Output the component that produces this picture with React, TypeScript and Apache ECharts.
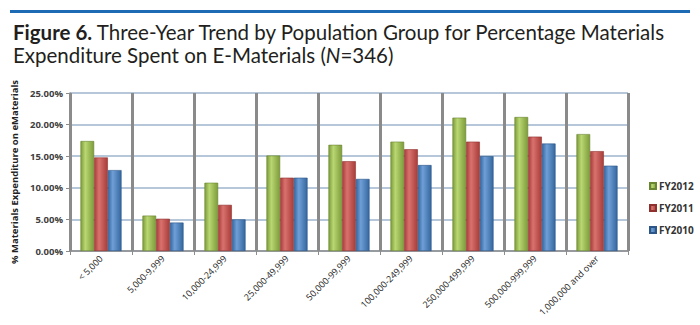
import React, { useEffect, useRef } from "react";
import * as echarts from "echarts";

const categories = [
  "< 5,000",
  "5,000-9,999",
  "10,000-24,999",
  "25,000-49,999",
  "50,000-99,999",
  "100,000-249,999",
  "250,000-499,999",
  "500,000-999,999",
  "1,000,000 and over",
];
const fy2012 = [17.4, 5.6, 10.8, 15.1, 16.8, 17.3, 21.1, 21.2, 18.5];
const fy2011 = [14.8, 5.1, 7.3, 11.6, 14.2, 16.1, 17.3, 18.1, 15.8];
const fy2010 = [12.8, 4.5, 5.0, 11.6, 11.4, 13.6, 15.0, 17.0, 13.5];
const seriesNames = ["FY2012", "FY2011", "FY2010"];

const grad = (dark: string, light: string) =>
  new echarts.graphic.LinearGradient(0, 0, 1, 0, [
    { offset: 0, color: dark },
    { offset: 0.35, color: light },
    { offset: 1, color: dark },
  ]);

export default function App() {
  const ref = useRef<HTMLDivElement>(null);
  useEffect(() => {
    if (!ref.current) return;
    const chart = echarts.init(ref.current, null, { renderer: "svg" });
    const mk = (name: string, data: number[], dark: string, light: string, border: string, legend: string) => ({
      name,
      type: "bar",
      data,
      barWidth: 13.7,
      barGap: "0%",
      itemStyle: { color: grad(dark, light), borderColor: border, borderWidth: 0.6 },
      color: legend,
    });
    chart.setOption({
      animation: false,
      textStyle: { fontFamily: "Open Sans" },
      graphic: [
        { type: "rect", shape: { x: 10, y: 10, width: 680, height: 3 }, style: { fill: "#1d6bb5" } },
      ],
      title: {
        left: 8,
        top: 15,
        text:
          "{b|Figure 6.}{r| Three-Year Trend by Population Group for Percentage Materials}\n{r|Expenditure Spent on E-Materials (}{i|N}{r|=346)}",
        textStyle: {
          fontWeight: "normal",
          rich: {
            b: { fontFamily: "Lato", fontSize: 20.5, fontWeight: "bold", color: "#231f20", lineHeight: 23 },
            r: { fontFamily: "Lato", fontSize: 20.5, fontWeight: "normal", color: "#231f20", lineHeight: 23 },
            i: { fontFamily: "Lato", fontSize: 20.5, fontWeight: "normal", fontStyle: "italic", color: "#231f20", lineHeight: 23 },
          },
        },
      },
      legend: {
        orient: "vertical",
        left: 644,
        top: 176,
        itemWidth: 6,
        itemHeight: 6,
        itemGap: 12,
        icon: "rect",
        textStyle: { fontSize: 10, fontWeight: "bold", color: "#333", fontFamily: "Open Sans", padding: [0, 0, 0, -2] },
        data: seriesNames,
      },
      grid: { left: 70, top: 93, width: 558, height: 158 },
      xAxis: {
        type: "category",
        data: categories,
        axisLine: { lineStyle: { color: "#8c8c8c", width: 1.5 } },
        axisTick: { show: true, length: 4, lineStyle: { color: "#8c8c8c" } },
        splitLine: { show: true, interval: 0, lineStyle: { color: "#8a8a8a", width: 3 } },
        axisLabel: {
          interval: 0,
          rotate: 45,
          fontSize: 9,
          margin: 6,
          color: "#222",
          fontFamily: "Open Sans",
        },
      },
      yAxis: {
        type: "value",
        min: 0,
        max: 25,
        interval: 5,
        name: "% Materials Expenditure on eMaterials",
        nameLocation: "middle",
        nameRotate: 90,
        nameGap: 45,
        nameTextStyle: { fontSize: 9.5, fontWeight: "bold", color: "#222", fontFamily: "Open Sans" },
        axisLine: { show: true, lineStyle: { color: "#8c8c8c", width: 1.5 } },
        axisTick: { show: true, length: 4, lineStyle: { color: "#8c8c8c" } },
        splitLine: { lineStyle: { color: "#9db4cc", width: 1.5 } },
        axisLabel: {
          fontSize: 9.5,
          fontWeight: "bold",
          color: "#404040",
          margin: 7,
          fontFamily: "Open Sans",
          formatter: (v: number) => v.toFixed(2) + "%",
        },
      },
      series: [
        mk(seriesNames[0], fy2012, "#7d9c3a", "#b9d873", "#6a8530", "#9bbb59"),
        mk(seriesNames[1], fy2011, "#a83c39", "#d9726e", "#8e302d", "#c0504d"),
        mk(seriesNames[2], fy2010, "#35679f", "#6f9fd6", "#2c5688", "#4f81bd"),
      ],
    });
    return () => chart.dispose();
  }, []);
  return (
    <div
      ref={ref}
      style={{ position: "absolute", left: 0, top: 0, width: 700, height: 325, background: "#fff" }}
    />
  );
}
